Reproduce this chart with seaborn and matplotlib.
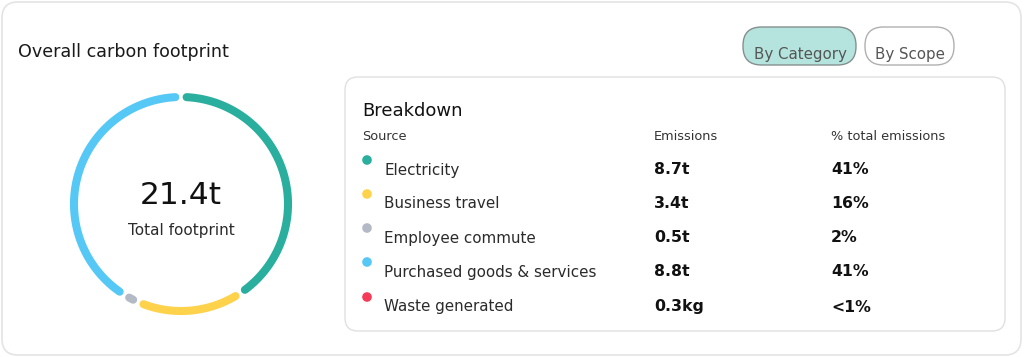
"""
Overall carbon footprint card: donut of emissions by category plus breakdown table
"""

import numpy as np
import pandas as pd
import matplotlib
matplotlib.use('Agg')
import matplotlib.pyplot as plt
from matplotlib.patches import FancyBboxPatch
import seaborn as sns

# Data
sources = ['Electricity', 'Business travel', 'Employee commute',
           'Purchased goods & services', 'Waste generated']
emissions_t = [8.7, 3.4, 0.5, 8.8, 0.0003]
emission_labels = ['8.7t', '3.4t', '0.5t', '8.8t', '0.3kg']
pct_labels = ['41%', '16%', '2%', '41%', '<1%']
colors = ['#2aae9e', '#ffd24c', '#b3bac5', '#56c8f6', '#f43b57']
total_label = '21.4t'

W, H = 1024, 357

sns.set_theme(style='white')
plt.rcParams['font.family'] = ['DejaVu Sans']

fig = plt.figure(figsize=(W / 100, H / 100), dpi=100)
fig.patch.set_facecolor('white')

# full-figure axes in pixel coordinates for the card layout
ax = fig.add_axes([0, 0, 1, 1])
ax.set_xlim(0, W)
ax.set_ylim(H, 0)
ax.axis('off')

def rounded_box(x0, y0, x1, y1, r, fc='white', ec='#e2e2e2', lw=1.0, z=0):
    box = FancyBboxPatch((x0 + r, y0 + r), (x1 - x0) - 2 * r, (y1 - y0) - 2 * r,
                         boxstyle=f'round,pad={r}', fc=fc, ec=ec, lw=lw, zorder=z)
    ax.add_patch(box)

# outer card and breakdown panel
rounded_box(2, 2, 1021, 355, 16, ec='#e4e4e4', lw=1.2)
rounded_box(345, 77, 1005, 331, 13, ec='#e0e0e0', lw=1.0, z=1)

ax.text(18, 52, 'Overall carbon footprint', fontsize=12.6, color='#1a1a1a',
        va='center', ha='left')

# toggle buttons
rounded_box(743, 27, 856, 65, 18.5, fc='#b4e4dd', ec='#85908e', lw=1.0, z=2)
rounded_box(865, 27, 954, 65, 18.5, fc='white', ec='#b0b0b0', lw=1.0, z=2)
ax.text(800, 54, 'By Category', fontsize=10.8, color='#555555', ha='center', va='center', zorder=3)
ax.text(910, 54, 'By Scope', fontsize=10.8, color='#555555', ha='center', va='center', zorder=3)

# breakdown table
ax.text(362, 111, 'Breakdown', fontsize=13, color='#111111', va='center', ha='left', zorder=3)
ax.text(362, 137, 'Source', fontsize=9.3, color='#333333', va='center', zorder=3)
ax.text(654, 137, 'Emissions', fontsize=9.3, color='#333333', va='center', zorder=3)
ax.text(831, 137, '% total emissions', fontsize=9.3, color='#333333', va='center', zorder=3)

row_y = np.array([170, 204, 238, 272, 307])
table = pd.DataFrame({'source': sources, 'x': 367, 'y': row_y - 10})
sns.scatterplot(data=table, x='x', y='y', hue='source', palette=colors, s=48,
                edgecolor='none', legend=False, ax=ax, zorder=4)
for i, src in enumerate(sources):
    ax.text(384, row_y[i], src, fontsize=10.9, color='#2b2b2b', va='center', zorder=3)
    ax.text(654, row_y[i], emission_labels[i], fontsize=11.3, fontweight='bold',
            color='#111111', va='center', zorder=3)
    ax.text(831, row_y[i], pct_labels[i], fontsize=11.3, fontweight='bold',
            color='#111111', va='center', zorder=3)

# donut on a polar axes, clockwise from the top
cx, cy, R, ring = 181, 204, 122, 107
axd = fig.add_axes([(cx - R) / W, 1 - (cy + R) / H, 2 * R / W, 2 * R / H], projection='polar')
axd.set_theta_zero_location('N')
axd.set_theta_direction(-1)
axd.set_ylim(0, R / ring)
axd.axis('off')

vals = np.array(emissions_t)
edges = np.concatenate([[0], np.cumsum(vals)]) / vals.sum() * 2 * np.pi
gap = np.deg2rad(3.0)
for i in range(len(vals)):
    a0, a1 = edges[i] + gap, edges[i + 1] - gap
    if a1 <= a0:
        continue
    th = np.linspace(a0, a1, 100)
    axd.plot(th, np.ones_like(th), color=colors[i], lw=5.8, solid_capstyle='round')

ax.text(cx, 195, total_label, fontsize=22.5, color='#111111', ha='center', va='center')
ax.text(cx, 230, 'Total footprint', fontsize=11, color='#2b2b2b', ha='center', va='center')

plt.savefig('out.png', dpi=100)
plt.close()
